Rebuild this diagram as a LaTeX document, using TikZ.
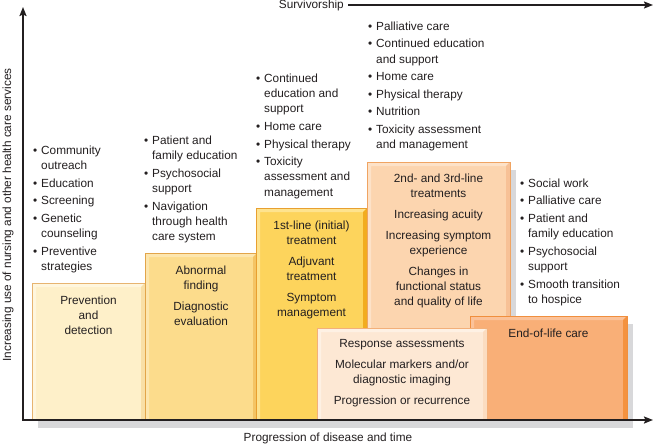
\documentclass[tikz,border=0pt]{standalone}
\usepackage{fontspec}
\setmainfont{Liberation Sans}
\usetikzlibrary{arrows.meta}
\definecolor{txt}{HTML}{231F20}
\definecolor{shadowc}{HTML}{D8D8DA}
\definecolor{aM}{HTML}{FEF0C9}\definecolor{aL}{HTML}{FFF6DD}\definecolor{aD}{HTML}{F9DFA6}\definecolor{aE}{HTML}{E7B470}
\definecolor{bM}{HTML}{FCDC8C}\definecolor{bL}{HTML}{FDE6AE}\definecolor{bD}{HTML}{F4C464}\definecolor{bE}{HTML}{E2A54A}
\definecolor{cM}{HTML}{FDD45C}\definecolor{cL}{HTML}{FEE38E}\definecolor{cD}{HTML}{F2AC1F}\definecolor{cE}{HTML}{E8A030}
\definecolor{dM}{HTML}{FCD5AF}\definecolor{dL}{HTML}{FDE2C8}\definecolor{dD}{HTML}{F7C196}\definecolor{dE}{HTML}{F0A462}
\definecolor{eM}{HTML}{FDE8D4}\definecolor{eL}{HTML}{FEF1E4}\definecolor{eD}{HTML}{FBDCC0}\definecolor{eE}{HTML}{F3B07A}
\definecolor{fM}{HTML}{F9AF77}\definecolor{fL}{HTML}{FBC299}\definecolor{fD}{HTML}{F4923F}\definecolor{fE}{HTML}{F08F3E}
\newcommand\bevbox[8]{%
  \fill[#5] (#1,#2) rectangle (#3,#4);
  \fill[#6] (#1,#2) -- (#3,#2) -- ({#3-4},{#2+4}) -- ({#1+4},{#2+4}) -- ({#1+4},#4) -- (#1,#4) -- cycle;
  \fill[#7] (#3,#2) -- (#3,#4) -- ({#3-4},#4) -- ({#3-4},{#2+4}) -- cycle;
  \draw[#8, line width=0.8pt] (#1,#4) -- (#1,#2) -- (#3,#2) -- (#3,#4);
}
\newcommand\bu{\makebox[8pt][l]{\textbullet}}
\newcommand\cn{\hspace*{8pt}}
\tikzset{
  lst/.style={anchor=north west, inner sep=0pt, align=left, text=txt, font=\fontsize{11.8}{15.3}\selectfont},
  boxtxt/.style={anchor=north, inner sep=0pt, align=center, text=txt, font=\fontsize{11.8}{15}\selectfont},
  axlabel/.style={inner sep=0pt, text=txt, font=\fontsize{11.8}{14}\selectfont},
  axis/.style={line width=1.8pt, txt, {Stealth[length=9pt,width=7pt,inset=1.5pt]}-{Stealth[length=9pt,width=7pt,inset=1.5pt]}},
  survarrow/.style={line width=1.4pt, txt, -{Stealth[length=9pt,width=7pt,inset=1.5pt]}}
}
\begin{document}
\begin{tikzpicture}[x=1pt,y=-1pt]
\useasboundingbox (0,0) rectangle (654,445);
\fill[white] (0,0) rectangle (654,445);
% shadows
\fill[shadowc] (38,291) rectangle (151,428);
\fill[shadowc] (151,261) rectangle (263,428);
\fill[shadowc] (262,216) rectangle (373,428);
\fill[shadowc] (373,170) rectangle (516,428);
\fill[shadowc] (476,324) rectangle (633,428);
\fill[shadowc] (323,336) rectangle (493,428);
% boxes
\bevbox{32}{283}{145}{420}{aM}{aL}{aD}{aE}
\bevbox{145}{253}{257}{420}{bM}{bL}{bD}{bE}
\bevbox{256}{208}{367}{420}{cM}{cL}{cD}{cE}
\bevbox{367}{162}{510}{420}{dM}{dL}{dD}{dE}
\bevbox{470}{316}{627}{420}{fM}{fL}{fD}{fE}
\bevbox{317}{328}{487}{420}{eM}{eL}{eD}{eE}
% box texts
\node[boxtxt] (t1) at (88.5,295.5) {Prevention\\and\\detection};
\node[boxtxt] (t2) at (201,265.5) {Abnormal\\finding\\[6pt]Diagnostic\\evaluation};
\node[boxtxt] (t3) at (311.5,220.5) {1st-line (initial)\\treatment\\[6pt]Adjuvant\\treatment\\[6pt]Symptom\\management};
\node[boxtxt] (t4) at (438.5,173.5) {2nd- and 3rd-line\\treatments\\[6pt]Increasing acuity\\[6pt]Increasing symptom\\experience\\[6pt]Changes in\\functional status\\and quality of life};
\node[boxtxt] (t5) at (402,339.5) {Response assessments\\[6pt]Molecular markers and/or\\diagnostic imaging\\[6pt]Progression or recurrence};
\node[boxtxt] (t6) at (548.5,328.5) {End-of-life care};
% bullet lists
\node[lst] (l1) at (33,145.5) {\bu Community\\\cn outreach\\[2.3pt]\bu Education\\[2.3pt]\bu Screening\\[2.3pt]\bu Genetic\\\cn counseling\\[2.3pt]\bu Preventive\\\cn strategies};
\node[lst] (l2) at (144,135.5) {\bu Patient and\\\cn family education\\[2.3pt]\bu Psychosocial\\\cn support\\[2.3pt]\bu Navigation\\\cn through health\\\cn care system};
\node[lst] (l3) at (256,73.5) {\bu Continued\\\cn education and\\\cn support\\[2.3pt]\bu Home care\\[2.3pt]\bu Physical therapy\\[2.3pt]\bu Toxicity\\\cn assessment and\\\cn management};
\node[lst] (l4) at (368,21.5) {\bu Palliative care\\[2.3pt]\bu Continued education\\\cn and support\\[2.3pt]\bu Home care\\[2.3pt]\bu Physical therapy\\[2.3pt]\bu Nutrition\\[2.3pt]\bu Toxicity assessment\\\cn and management};
\node[lst] (l5) at (520,178.5) {\bu Social work\\[2.3pt]\bu Palliative care\\[2.3pt]\bu Patient and\\\cn family education\\[2.3pt]\bu Psychosocial\\\cn support\\[2.3pt]\bu Smooth transition\\\cn to hospice};
% axes
\coordinate (O) at (23,420);
\coordinate (ytip) at (23,7);
\coordinate (xtip) at (653,420);
\draw[axis] (ytip) -- (O) -- (xtip);
\node[axlabel, anchor=east] (surv) at (344,5) {Survivorship};
\coordinate (survend) at (653,5);
\draw[survarrow] ([xshift=4pt]surv.east) -- (survend);
\node[axlabel] (xlab) at (328,438) {Progression of disease and time};
\node[axlabel, rotate=90] (ylab) at (8,215) {Increasing use of nursing and other health care services};
\end{tikzpicture}
\end{document}
